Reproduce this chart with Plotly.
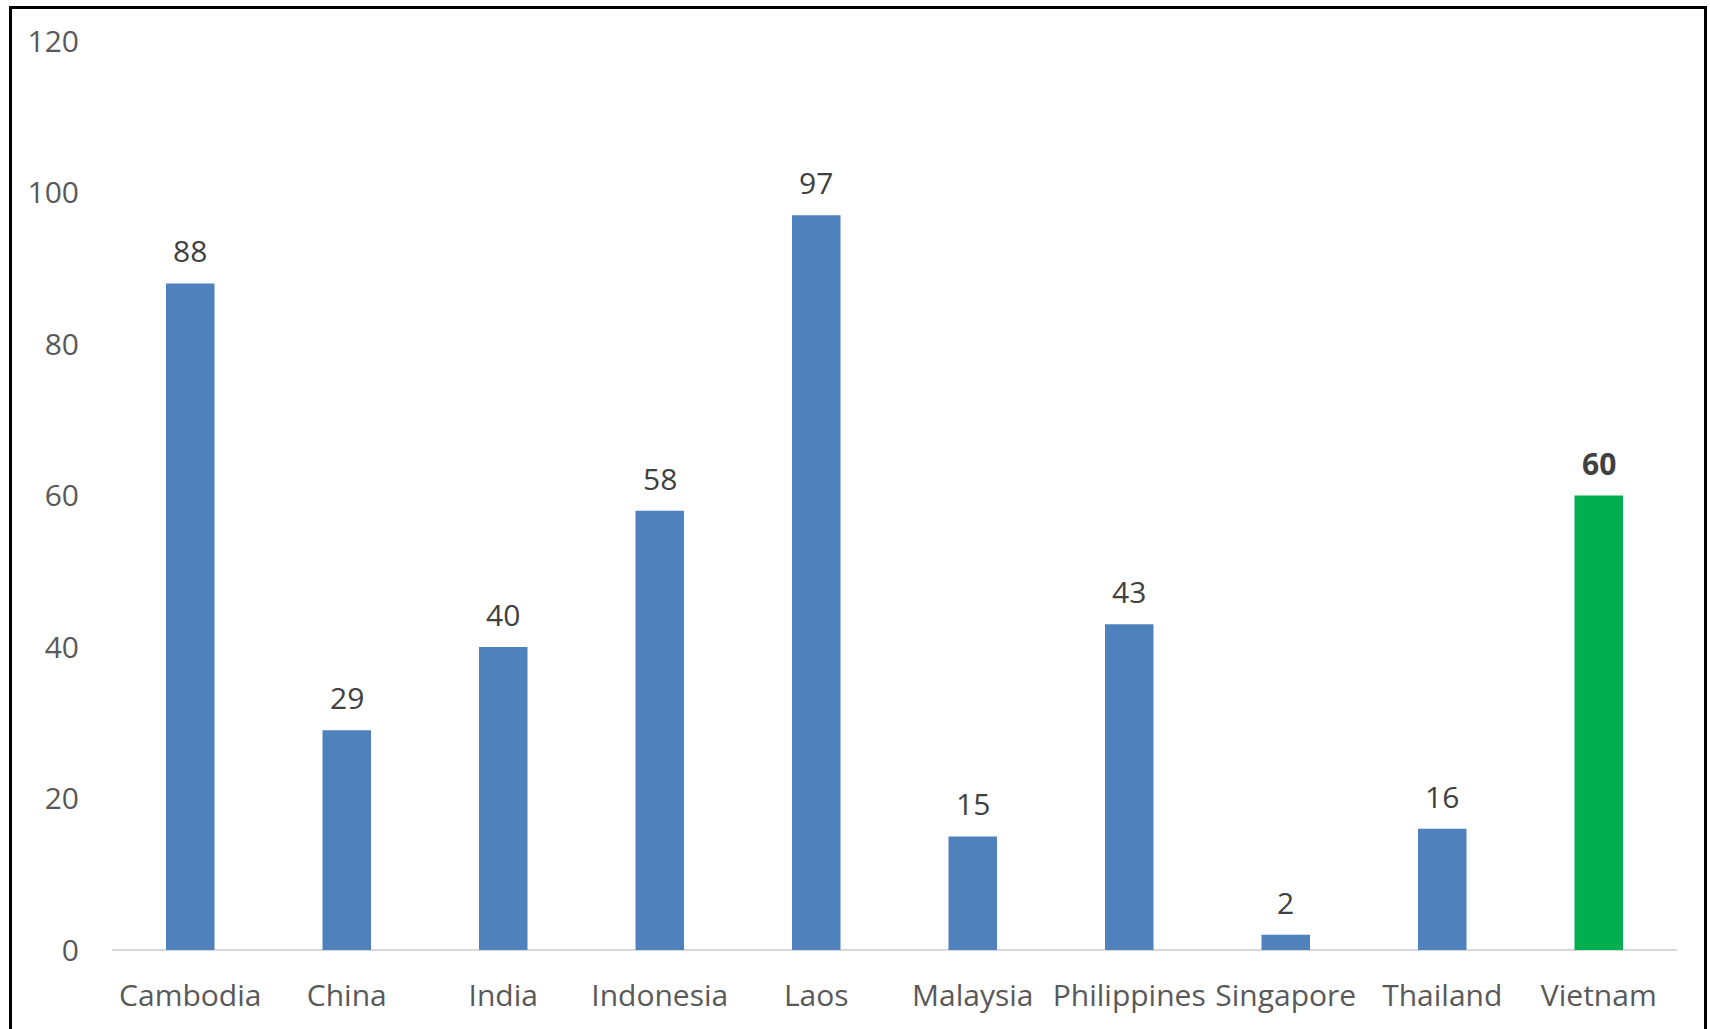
import plotly.graph_objects as go

categories = ["Cambodia", "China", "India", "Indonesia", "Laos", "Malaysia",
              "Philippines", "Singapore", "Thailand", "Vietnam"]
values = [88, 29, 40, 58, 97, 15, 43, 2, 16, 60]
highlight = "Vietnam"
y_ticks = [0, 20, 40, 60, 80, 100, 120]

BLUE = "#4F81BD"
GREEN = "#00B050"
FONT = "Open Sans"

colors = [GREEN if c == highlight else BLUE for c in categories]

fig = go.Figure()
fig.add_trace(go.Bar(
    x=categories, y=values, marker=dict(color=colors, line=dict(width=0)),
    width=0.31, hoverinfo="x+y",
))

for c, v in zip(categories, values):
    bold = c == highlight
    fig.add_annotation(
        x=c, y=v, xref="x", yref="y",
        text=f"<b>{v}</b>" if bold else str(v),
        showarrow=False, yanchor="bottom", yshift=10,
        font=dict(family=FONT, size=30, color="#404040"),
    )

W, H = 1710, 1029
L, R, T, B = 112, 33, 41, 79
pw, ph = W - L - R, H - T - B

def px_x(x):
    return (x - L) / pw

def px_y(y):
    return (H - B - y) / ph

fig.add_shape(type="rect", xref="paper", yref="paper",
              x0=px_x(10.5), x1=px_x(1705.5), y0=px_y(1040), y1=px_y(7.5),
              line=dict(color="black", width=3), fillcolor="rgba(0,0,0,0)", layer="above")

fig.update_layout(
    width=W, height=H,
    margin=dict(l=L, r=R, t=T, b=B, pad=0),
    plot_bgcolor="white", paper_bgcolor="white",
    showlegend=False, bargap=0.69,
    font=dict(family=FONT, size=30, color="#595959"),
    xaxis=dict(
        showgrid=False, zeroline=False, showline=False,
        ticks="outside", ticklen=19, tickcolor="rgba(0,0,0,0)",
        tickfont=dict(family=FONT, size=30, color="#595959"),
    ),
    yaxis=dict(
        range=[0, 120], tickvals=y_ticks, showgrid=False,
        zeroline=True, zerolinecolor="#D9D9D9", zerolinewidth=2,
        showline=False, ticks="outside", ticklen=26, tickcolor="rgba(0,0,0,0)",
        tickfont=dict(family=FONT, size=30, color="#595959"),
    ),
)

fig.write_html("out.html")
